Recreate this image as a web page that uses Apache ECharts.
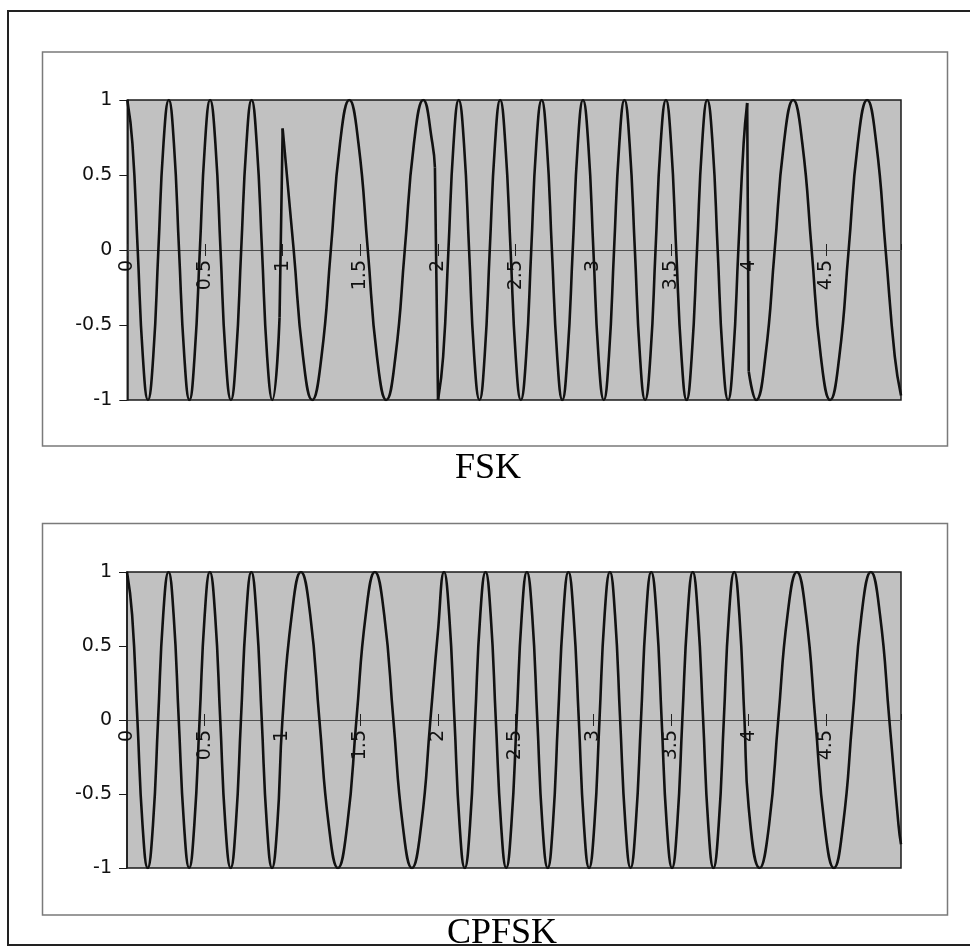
<!DOCTYPE html>
<html>
<head>
<meta charset="utf-8">
<title>FSK / CPFSK</title>
<script src="https://cdn.jsdelivr.net/npm/echarts@6/dist/echarts.min.js"></script>
<style>
  html, body { margin: 0; padding: 0; background: #ffffff; }
  #chart { width: 970px; height: 946px; }
</style>
</head>
<body>
<div id="chart"></div>
<script>
// Axis ticks: time in bit periods, amplitude of the carrier
const timeTicks = [0, 0.5, 1, 1.5, 2, 2.5, 3, 3.5, 4, 4.5];
const timeEnd = 4.98;
const levelTicks = [-1, -0.5, 0, 0.5, 1];

// Bits sent in each period (1 = high tone, 0 = low tone)
const bits = [1, 0, 1, 1, 0];

// FSK trace: peaks, troughs, half-height points and zero crossings;
// null marks the phase jump at a bit boundary
const fskTime = [
  0, 0.033, 0.067, 0.1, 0.133, 0.167, 0.2, 0.233, 0.267, 0.3, 0.333, 0.367, 0.4, 0.433, 0.467,
  0.5, 0.533, 0.567, 0.6, 0.633, 0.667, 0.7, 0.733, 0.767, 0.8, 0.833, 0.867, 0.9, 0.933, 0.98,
  null,
  1.0, 1.071, 1.131, 1.19, 1.25, 1.31, 1.369, 1.429, 1.488, 1.548, 1.607, 1.667, 1.726, 1.786,
  1.845, 1.905, 1.964, 1.98,
  null,
  2.0, 2.033, 2.067, 2.1, 2.133, 2.167, 2.2, 2.233, 2.267, 2.3, 2.333, 2.367, 2.4, 2.433, 2.467,
  2.5, 2.533, 2.567, 2.6, 2.633, 2.667, 2.7, 2.733, 2.767, 2.8, 2.833, 2.867, 2.9, 2.933, 2.967,
  3.0, 3.033, 3.067, 3.1, 3.133, 3.167, 3.2, 3.233, 3.267, 3.3, 3.333, 3.367, 3.4, 3.433, 3.467,
  3.5, 3.533, 3.567, 3.6, 3.633, 3.667, 3.7, 3.733, 3.767, 3.8, 3.833, 3.867, 3.9, 3.933, 3.967, 3.99,
  null,
  4.0, 4.048, 4.107, 4.167, 4.226, 4.286, 4.345, 4.405, 4.464, 4.524, 4.583, 4.643, 4.702,
  4.762, 4.821, 4.881, 4.94, 4.98
];
const fskLevel = [
  1, 0.71, 0, -0.71, -1, -0.71, 0, 0.71, 1, 0.71, 0, -0.71, -1, -0.71, 0,
  0.71, 1, 0.71, 0, -0.71, -1, -0.71, 0, 0.71, 1, 0.71, 0, -0.71, -1, -0.45,
  null,
  0.81, 0, -0.71, -1, -0.71, 0, 0.71, 1, 0.71, 0, -0.71, -1, -0.71, 0,
  0.71, 1, 0.71, 0.55,
  null,
  -1, -0.71, 0, 0.71, 1, 0.71, 0, -0.71, -1, -0.71, 0, 0.71, 1, 0.71, 0,
  -0.71, -1, -0.71, 0, 0.71, 1, 0.71, 0, -0.71, -1, -0.71, 0, 0.71, 1, 0.71,
  0, -0.71, -1, -0.71, 0, 0.71, 1, 0.71, 0, -0.71, -1, -0.71, 0, 0.71, 1,
  0.71, 0, -0.71, -1, -0.71, 0, 0.71, 1, 0.71, 0, -0.71, -1, -0.71, 0, 0.71, 0.98,
  null,
  -0.81, -1, -0.71, 0, 0.71, 1, 0.71, 0, -0.71, -1, -0.71, 0, 0.71,
  1, 0.71, 0, -0.71, -0.97
];

// CPFSK trace: same bits, phase carried across every boundary
const cpfskTime = [
  0, 0.033, 0.067, 0.1, 0.133, 0.167, 0.2, 0.233, 0.267, 0.3, 0.333, 0.367, 0.4, 0.433, 0.467,
  0.5, 0.533, 0.567, 0.6, 0.633, 0.667, 0.7, 0.733, 0.767, 0.8, 0.833, 0.867, 0.9, 0.933, 0.967, 1.0,
  1.06, 1.119, 1.179, 1.238, 1.298, 1.357, 1.417, 1.476, 1.536, 1.595, 1.655, 1.714, 1.774,
  1.833, 1.893, 1.952, 2.0,
  2.04, 2.073, 2.107, 2.14, 2.173, 2.207, 2.24, 2.273, 2.307, 2.34,
  2.373, 2.407, 2.44, 2.473, 2.507, 2.54, 2.573, 2.607, 2.64, 2.673,
  2.707, 2.74, 2.773, 2.807, 2.84, 2.873, 2.907, 2.94, 2.973, 3.007,
  3.04, 3.073, 3.107, 3.14, 3.173, 3.207, 3.24, 3.273, 3.307, 3.34,
  3.373, 3.407, 3.44, 3.473, 3.507, 3.54, 3.573, 3.607, 3.64, 3.673,
  3.707, 3.74, 3.773, 3.807, 3.84, 3.873, 3.907, 3.94, 3.973, 4.0,
  4.071, 4.131, 4.19, 4.25, 4.31, 4.369, 4.429, 4.488, 4.548, 4.607, 4.667, 4.726,
  4.786, 4.845, 4.905, 4.964, 4.98
];
const cpfskLevel = [
  1, 0.71, 0, -0.71, -1, -0.71, 0, 0.71, 1, 0.71, 0, -0.71, -1, -0.71, 0,
  0.71, 1, 0.71, 0, -0.71, -1, -0.71, 0, 0.71, 1, 0.71, 0, -0.71, -1, -0.71, 0,
  0.71, 1, 0.71, 0, -0.71, -1, -0.71, 0, 0.71, 1, 0.71, 0, -0.71,
  -1, -0.71, 0, 0.59,
  1, 0.71, 0, -0.71, -1, -0.71, 0, 0.71, 1, 0.71,
  0, -0.71, -1, -0.71, 0, 0.71, 1, 0.71, 0, -0.71,
  -1, -0.71, 0, 0.71, 1, 0.71, 0, -0.71, -1, -0.71,
  0, 0.71, 1, 0.71, 0, -0.71, -1, -0.71, 0, 0.71,
  1, 0.71, 0, -0.71, -1, -0.71, 0, 0.71, 1, 0.71,
  0, -0.71, -1, -0.71, 0, 0.71, 1, 0.71, 0, -0.59,
  -1, -0.71, 0, 0.71, 1, 0.71, 0, -0.71, -1, -0.71, 0, 0.71,
  1, 0.71, 0, -0.71, -0.84
];

const panelTitles = ['FSK', 'CPFSK'];

// ---- drawing ----
const LABEL_FONT = '"DejaVu Sans", "Liberation Sans", Arial, sans-serif';
const TITLE_FONT = '"Liberation Serif", "Times New Roman", serif';
const INK = '#111111';
const TICK = '#222222';

// split a trace into smooth runs and straight jump segments
function tracePieces(time, level) {
  const smooth = [];
  const jumps = [];
  for (let i = 0; i < time.length; i++) {
    if (time[i] === null) {
      smooth.push(['-', '-']);
      if (jumps.length) jumps.push(['-', '-']);
      jumps.push([time[i - 1], level[i - 1]], [time[i + 1], level[i + 1]]);
    } else {
      smooth.push([time[i], level[i]]);
    }
  }
  return { smooth, jumps };
}

// plot rectangles of the two panels
const panels = [
  { rect: { left: 127.3, top: 100, width: 773.7, height: 300 }, trace: tracePieces(fskTime, fskLevel) },
  { rect: { left: 127, top: 572, width: 774, height: 296 }, trace: tracePieces(cpfskTime, cpfskLevel) }
];

const step = timeTicks[1] - timeTicks[0];
const lvMin = levelTicks[0];
const lvMax = levelTicks[levelTicks.length - 1];
const grids = [], xAxes = [], yAxes = [], series = [];

const timeScale = { type: 'value', min: timeTicks[0], max: timeEnd, interval: step };
const fmtTime = v => {
  const r = Math.round(v * 100) / 100;
  return timeTicks.indexOf(r) >= 0 ? String(r) : '';
};

panels.forEach((p, i) => {
  const r = p.rect;
  const half = r.height / 2;
  const g = 3 * i;

  // main plot area
  grids.push(Object.assign({
    show: true, backgroundColor: '#c1c1c1', borderColor: '#1a1a1a', borderWidth: 1.5,
    containLabel: false, outerBoundsMode: 'none', z: 0
  }, r));
  // upper half: its bottom edge is the zero line carrying the time labels
  grids.push({ show: false, containLabel: false, outerBoundsMode: 'none',
    left: r.left, top: r.top, width: r.width, height: half });
  // lower half: its top edge carries the upper part of the crossing ticks
  grids.push({ show: false, containLabel: false, outerBoundsMode: 'none',
    left: r.left, top: r.top + half, width: r.width, height: half });

  xAxes.push(Object.assign({ gridIndex: g, show: false }, timeScale));
  xAxes.push(Object.assign({
    gridIndex: g + 1, position: 'bottom', z: 2,
    axisLine: { show: true, onZero: false, lineStyle: { color: '#505050', width: 1 } },
    axisTick: { show: true, inside: false, length: 6, lineStyle: { color: TICK, width: 1 } },
    axisLabel: {
      rotate: 90, margin: 10, fontFamily: LABEL_FONT, fontSize: 19, color: INK,
      showMinLabel: true, showMaxLabel: false, formatter: fmtTime
    },
    splitLine: { show: false }
  }, timeScale));
  xAxes.push(Object.assign({
    gridIndex: g + 2, position: 'top', z: 2,
    axisLine: { show: false, onZero: false },
    axisTick: { show: true, inside: false, length: 6, lineStyle: { color: TICK, width: 1 } },
    axisLabel: { show: false },
    splitLine: { show: false }
  }, timeScale));

  yAxes.push({
    type: 'value', gridIndex: g, min: lvMin, max: lvMax, interval: levelTicks[1] - levelTicks[0], z: 2,
    axisLine: { show: true, onZero: false, lineStyle: { color: '#1a1a1a', width: 1.5 } },
    axisTick: { show: true, length: 8, lineStyle: { color: '#1a1a1a', width: 1 } },
    axisLabel: { margin: 15, fontFamily: LABEL_FONT, fontSize: 19, color: INK },
    splitLine: { show: false }
  });
  yAxes.push({ type: 'value', gridIndex: g + 1, show: false, min: 0, max: lvMax, axisLine: { onZero: false } });
  yAxes.push({ type: 'value', gridIndex: g + 2, show: false, min: lvMin, max: 0, axisLine: { onZero: false } });

  series.push({
    type: 'line', name: panelTitles[i], xAxisIndex: g, yAxisIndex: g,
    data: p.trace.smooth, smooth: 0.5, showSymbol: false, symbol: 'none', connectNulls: false,
    lineStyle: { color: INK, width: 2.6 }, z: 4
  });
  if (p.trace.jumps.length) {
    series.push({
      type: 'line', name: panelTitles[i] + ' jumps', xAxisIndex: g, yAxisIndex: g,
      data: p.trace.jumps, smooth: false, showSymbol: false, symbol: 'none', connectNulls: false,
      lineStyle: { color: INK, width: 2.6 }, z: 4
    });
  }
});

const frame = (x, y, w, h, color, lw) => ({
  type: 'rect', silent: true, z: 0,
  shape: { x, y, width: w, height: h },
  style: { fill: 'none', stroke: color, lineWidth: lw }
});
const caption = (text, x, y) => ({
  type: 'text', silent: true, z: 5, x, y,
  style: {
    text, font: '36px ' + TITLE_FONT, fill: '#000',
    align: 'left', verticalAlign: 'middle', textAlign: 'left', textVerticalAlign: 'middle'
  }
});

const chart = echarts.init(document.getElementById('chart'), null, { renderer: 'canvas' });
chart.setOption({
  animation: false,
  backgroundColor: '#ffffff',
  grid: grids,
  xAxis: xAxes,
  yAxis: yAxes,
  series: series,
  graphic: [
    frame(8, 11, 980, 934, '#222222', 2),
    frame(42.5, 52, 905, 394, '#7a7a7a', 1.5),
    frame(42.5, 523.5, 905, 391.5, '#7a7a7a', 1.5),
    caption(panelTitles[0], 455, 469),
    caption(panelTitles[1], 447, 934)
  ]
});
</script>
</body>
</html>
